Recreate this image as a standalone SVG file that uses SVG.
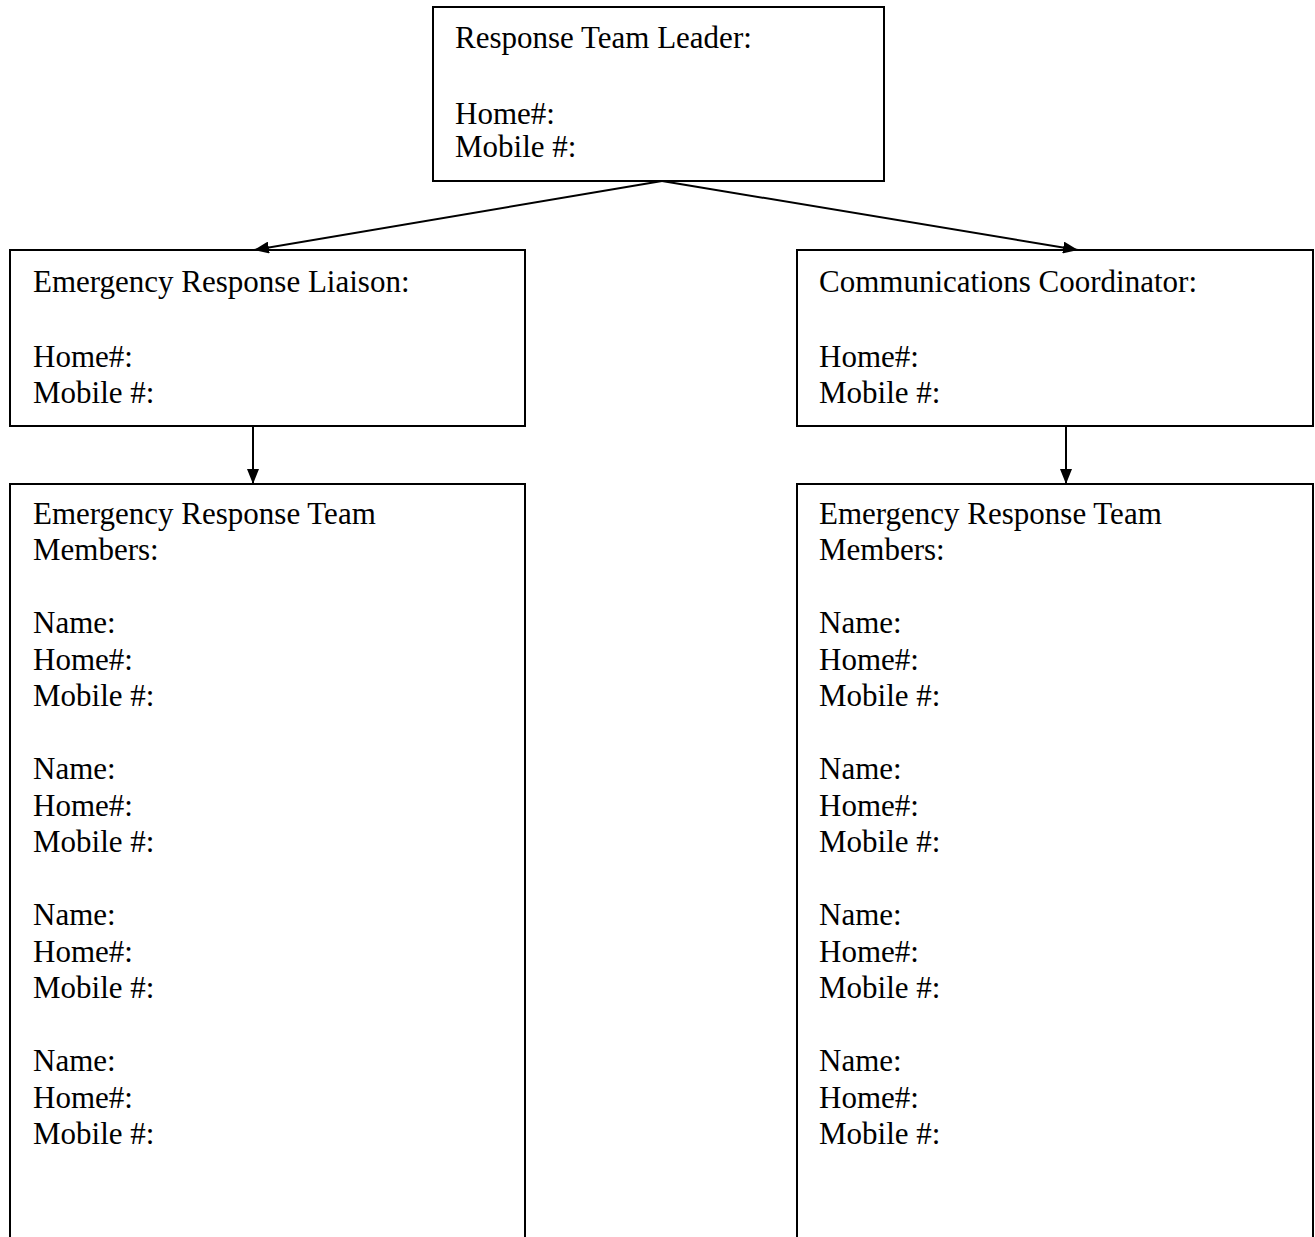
<svg xmlns="http://www.w3.org/2000/svg" width="1315" height="1237" viewBox="0 0 1315 1237">
<style>
.box{fill:#fff;stroke:#000;stroke-width:2}
.t{font-family:"Liberation Serif","Times New Roman",serif;font-size:31px;fill:#000}
.c{stroke:#000;stroke-width:2;fill:none}
</style>
<defs>
<marker id="ah" viewBox="0 0 15 12" refX="15" refY="6" markerWidth="15" markerHeight="12" markerUnits="userSpaceOnUse" orient="auto">
<path d="M0,0 L15,6 L0,12 z" fill="#000"/>
</marker>
</defs>
<rect width="1315" height="1237" fill="#fff"/>
<g id="leader">
<rect class="box" x="433" y="7" width="451" height="174"/>
<text class="t" x="455" y="48">Response Team Leader:</text>
<text class="t" x="455" y="124">Home#:</text>
<text class="t" x="455" y="157">Mobile #:</text>
</g>
<g id="liaison">
<rect class="box" x="10" y="250" width="515" height="176"/>
<text class="t" x="33" y="292">Emergency Response Liaison:</text>
<text class="t" x="33" y="367">Home#:</text>
<text class="t" x="33" y="403">Mobile #:</text>
</g>
<g id="coordinator">
<rect class="box" x="797" y="250" width="516" height="176"/>
<text class="t" x="819" y="292">Communications Coordinator:</text>
<text class="t" x="819" y="367">Home#:</text>
<text class="t" x="819" y="403">Mobile #:</text>
</g>
<g id="team-left">
<path class="box" d="M10,1240 V484 H525 V1240"/>
<text class="t" x="33" y="524">Emergency Response Team</text>
<text class="t" x="33" y="560">Members:</text>
<text class="t" x="33" y="633">Name:</text>
<text class="t" x="33" y="670">Home#:</text>
<text class="t" x="33" y="706">Mobile #:</text>
<text class="t" x="33" y="779">Name:</text>
<text class="t" x="33" y="816">Home#:</text>
<text class="t" x="33" y="852">Mobile #:</text>
<text class="t" x="33" y="925">Name:</text>
<text class="t" x="33" y="962">Home#:</text>
<text class="t" x="33" y="998">Mobile #:</text>
<text class="t" x="33" y="1071">Name:</text>
<text class="t" x="33" y="1108">Home#:</text>
<text class="t" x="33" y="1144">Mobile #:</text>
</g>
<g id="team-right">
<path class="box" d="M797,1240 V484 H1313 V1240"/>
<text class="t" x="819" y="524">Emergency Response Team</text>
<text class="t" x="819" y="560">Members:</text>
<text class="t" x="819" y="633">Name:</text>
<text class="t" x="819" y="670">Home#:</text>
<text class="t" x="819" y="706">Mobile #:</text>
<text class="t" x="819" y="779">Name:</text>
<text class="t" x="819" y="816">Home#:</text>
<text class="t" x="819" y="852">Mobile #:</text>
<text class="t" x="819" y="925">Name:</text>
<text class="t" x="819" y="962">Home#:</text>
<text class="t" x="819" y="998">Mobile #:</text>
<text class="t" x="819" y="1071">Name:</text>
<text class="t" x="819" y="1108">Home#:</text>
<text class="t" x="819" y="1144">Mobile #:</text>
</g>
<g id="connectors">
<line class="c" x1="662" y1="181" x2="254" y2="250" marker-end="url(#ah)"/>
<line class="c" x1="662" y1="181" x2="1078" y2="250" marker-end="url(#ah)"/>
<line class="c" x1="253" y1="426" x2="253" y2="484" marker-end="url(#ah)"/>
<line class="c" x1="1066" y1="426" x2="1066" y2="484" marker-end="url(#ah)"/>
</g>
</svg>
